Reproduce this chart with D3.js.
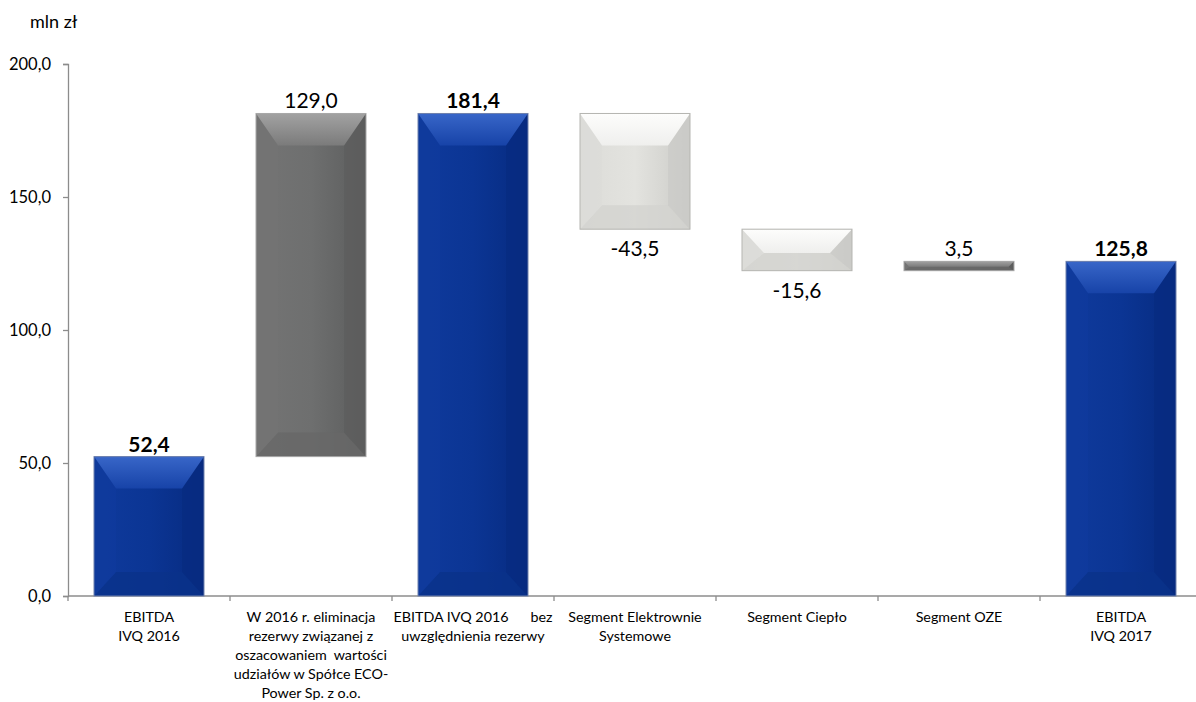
<!DOCTYPE html>
<html>
<head>
<meta charset="utf-8">
<script src="https://cdn.jsdelivr.net/npm/d3@7"></script>
<style>
  body { margin: 0; background: #fff; }
  svg text { font-family: Lato, "Open Sans", sans-serif; }
</style>
</head>
<body>
<svg id="chart" width="1196" height="702"></svg>
<script>
// categories (multi-line labels), values and which bars are totals
var categories = [
  ["EBITDA", "IVQ 2016"],
  ["W 2016 r. eliminacja", "rezerwy związanej z", "oszacowaniem  wartości", "udziałów w Spółce ECO-", "Power Sp. z o.o."],
  ["EBITDA IVQ 2016      bez", "uwzględnienia rezerwy"],
  ["Segment Elektrownie", "Systemowe"],
  ["Segment Ciepło"],
  ["Segment OZE"],
  ["EBITDA", "IVQ 2017"]
];
var values = [52.4, 129.0, 181.4, -43.5, -15.6, 3.5, 125.8];
var isTotal = [true, false, true, false, false, false, true];
var yTicks = [0, 50, 100, 150, 200];

// palettes for the bevelled bars
var palettes = {
  total: { name: "total", base: "#0b3594", top1: "#3866c8", top2: "#1743a8", left: "#0f3a9c", right: "#072b80", bottom: "#0a3289", edge: "#7082ad" },
  up:    { name: "up", base: "#6e6f6f", top1: "#a2a2a2", top2: "#7b7b7b", left: "#747474", right: "#5c5d5d", bottom: "#686868", edge: "#a8a8a8" },
  down:  { name: "down", base: "#e3e3df", top1: "#fdfdfc", top2: "#efefed", left: "#dcdcd8", right: "#cbcbc7", bottom: "#d3d3cf", edge: "#b5b5b1" }
};

// build the waterfall segments
var running = 0;
var bars = values.map(function (v, i) {
  var lo, hi;
  if (isTotal[i]) {
    lo = 0; hi = v; running = v;
  } else {
    lo = Math.min(running, running + v);
    hi = Math.max(running, running + v);
    running = running + v;
  }
  return { i: i, value: v, lo: lo, hi: hi, total: isTotal[i] };
});

var svg = d3.select("#chart");
var margin = { left: 68, top: 64 };
var chartWidth = 162 * categories.length;
var chartHeight = 532;

var xScale = d3.scaleBand()
  .domain(d3.range(categories.length))
  .range([margin.left, margin.left + chartWidth])
  .paddingInner(0)
  .paddingOuter(0);

var yScale = d3.scaleLinear()
  .domain([0, 200])
  .range([margin.top + chartHeight, margin.top]);

var fmt = function (v) { return d3.format(".1f")(v).replace(".", ",").replace("−", "-"); };
var axisColor = "#8c8c8c";

// gradients for each palette
var defs = svg.append("defs");
Object.keys(palettes).forEach(function (k) {
  var p = palettes[k];
  var lg = defs.append("linearGradient")
    .attr("id", "top_" + p.name)
    .attr("x1", 0).attr("y1", 0).attr("x2", 0).attr("y2", 1);
  lg.append("stop").attr("offset", "0%").attr("stop-color", p.top1);
  lg.append("stop").attr("offset", "100%").attr("stop-color", p.top2);
  var sg = defs.append("linearGradient")
    .attr("id", "body_" + p.name)
    .attr("x1", 0).attr("y1", 0).attr("x2", 1).attr("y2", 0);
  sg.append("stop").attr("offset", "0%").attr("stop-color", p.left);
  sg.append("stop").attr("offset", "50%").attr("stop-color", p.base);
  sg.append("stop").attr("offset", "100%").attr("stop-color", p.right);
});

// unit label
svg.append("text")
  .attr("x", 30).attr("y", 28)
  .style("font-size", "18px")
  .style("fill", "#000")
  .text("mln zł");

// y axis
var yAxis = svg.append("g")
  .attr("transform", "translate(" + margin.left + ",0)")
  .call(d3.axisLeft(yScale).tickValues(yTicks).tickSize(5).tickPadding(12).tickFormat(fmt));
yAxis.select(".domain").attr("stroke", axisColor).attr("stroke-width", 1.3);
yAxis.selectAll(".tick line").attr("stroke", axisColor).attr("stroke-width", 1.3);
yAxis.selectAll(".tick text")
  .style("font-size", "16.5px")
  .style("font-family", "Lato, 'Open Sans', sans-serif")
  .attr("fill", "#000");

// x axis line and boundary ticks
var y0 = yScale(0);
svg.append("line")
  .attr("x1", margin.left).attr("x2", margin.left + chartWidth)
  .attr("y1", y0).attr("y2", y0)
  .attr("stroke", axisColor).attr("stroke-width", 1.5);

svg.selectAll(".xtick")
  .data(d3.range(categories.length))
  .join("line")
  .attr("class", "xtick")
  .attr("x1", function (d) { return xScale(d); })
  .attr("x2", function (d) { return xScale(d); })
  .attr("y1", y0).attr("y2", y0 + 5)
  .attr("stroke", axisColor).attr("stroke-width", 1.3);

// category labels
var lineH = 19;
svg.selectAll(".xlabel")
  .data(categories)
  .join("text")
  .attr("class", "xlabel")
  .attr("text-anchor", "middle")
  .attr("xml:space", "preserve")
  .style("white-space", "pre")
  .style("font-size", "14.3px")
  .attr("fill", "#000")
  .each(function (lines, i) {
    var t = d3.select(this);
    lines.forEach(function (ln, k) {
      t.append("tspan")
        .attr("x", xScale(i) + xScale.bandwidth() / 2)
        .attr("y", y0 + 26 + k * lineH)
        .text(ln);
    });
  });

// bevelled bars
var barW = 110;
var g = svg.append("g");
bars.forEach(function (b) {
  var pal = b.total ? palettes.total : (b.value >= 0 ? palettes.up : palettes.down);
  var x0 = xScale(b.i) + (xScale.bandwidth() - barW) / 2;
  var x1 = x0 + barW;
  var yt = yScale(b.hi);
  var yb = yScale(b.lo);
  var h = yb - yt;
  var dx = 22, dt = 32, db = 24;
  if (dt + db > h) { var s = h / (dt + db); dt *= s; db *= s; dx = Math.min(dx, Math.max(dt, 4)); }
  var grp = g.append("g");
  grp.append("rect")
    .attr("x", x0).attr("y", yt).attr("width", barW).attr("height", h)
    .attr("fill", "url(#body_" + pal.name + ")");
  var faces = [
    { pts: [[x0, yb], [x0 + dx, yb - db], [x1 - dx, yb - db], [x1, yb]], c: pal.bottom, o: 0.8 },
    { pts: [[x0, yt], [x0 + dx, yt + dt], [x0 + dx, yb - db], [x0, yb]], c: pal.left, o: 0.7 },
    { pts: [[x1, yt], [x1, yb], [x1 - dx, yb - db], [x1 - dx, yt + dt]], c: pal.right, o: 0.7 },
    { pts: [[x0, yt], [x1, yt], [x1 - dx, yt + dt], [x0 + dx, yt + dt]], c: "url(#top_" + pal.name + ")", o: 1 }
  ];
  grp.selectAll("polygon")
    .data(faces)
    .join("polygon")
    .attr("points", function (f) { return f.pts.map(function (p) { return p.join(","); }).join(" "); })
    .attr("fill", function (f) { return f.c; })
    .attr("fill-opacity", function (f) { return f.o; });
  grp.append("rect")
    .attr("x", x0).attr("y", yt).attr("width", barW).attr("height", h)
    .attr("fill", "none")
    .attr("stroke", pal.edge).attr("stroke-width", 1);
});

// value labels
svg.selectAll(".vlabel")
  .data(bars)
  .join("text")
  .attr("class", "vlabel")
  .attr("text-anchor", "middle")
  .attr("x", function (b) { return xScale(b.i) + xScale.bandwidth() / 2; })
  .attr("y", function (b) {
    if (b.value < 0) return yScale(b.lo) + 27;
    return yScale(b.hi) - 5;
  })
  .style("font-size", "21px")
  .style("font-weight", function (b) { return b.total ? "bold" : "normal"; })
  .attr("fill", "#000")
  .text(function (b) { return fmt(b.value); });
</script>
</body>
</html>
